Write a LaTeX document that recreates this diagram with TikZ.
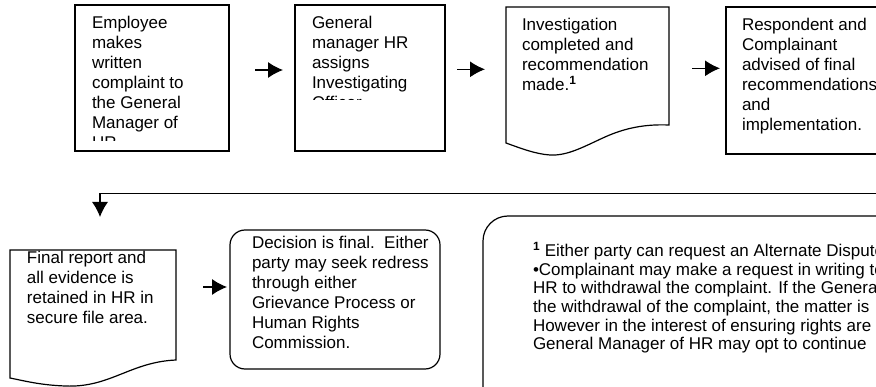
\documentclass[tikz,border=0pt]{standalone}
\usepackage{fontspec}
\setmainfont{Liberation Sans}
\usetikzlibrary{arrows.meta,positioning}
\tikzset{%
  >={Latex[length=15pt,width=16pt]},
  procbox/.style={draw,line width=1.2pt,inner sep=0pt,outer sep=0pt},
  docline/.style={line width=1.2pt},
  boxtext/.style={anchor=north west,align=left,inner sep=0pt,outer sep=0pt,
    font=\fontsize{17}{20}\selectfont,execute at begin node=\strut},
  flow/.style={->,line width=1.1pt}%
}

\begin{document}
\begin{tikzpicture}[x=1pt,y=-1pt]
\useasboundingbox (0,0) rectangle (876,387);
\clip (0,0) rectangle (876,387);

% top row
\node[procbox,minimum width=154pt,minimum height=146pt] (b1) at (152,78) {};
\node[procbox,minimum width=150pt,minimum height=146pt] (b2) at (370,78) {};
\node[procbox,draw=none,minimum width=163pt,minimum height=148pt] (b3) at (587.5,81) {};
\draw[docline] (b3.north west) -- (b3.north east) -- (669,125)
  .. controls (645,124) and (625,128) .. (605,137)
  .. controls (585,146) and (568,156) .. (550,155)
  .. controls (535,154) and (520,148) .. (506,143) -- cycle;
\node[procbox,minimum width=174pt,minimum height=147pt] (b4) at (813,80.5) {};

% text top = baseline - 14pt (strut)
\begin{scope}
  \clip (b1.north west) rectangle (229,140.5);
  \node[boxtext] (t1) at (92,16.5) {Employee\\makes\\written\\complaint to\\the General\\Manager of\\HR};
\end{scope}
\begin{scope}
  \clip (b2.north west) rectangle (445,100);
  \node[boxtext] (t2) at (312,16) {General\\manager HR\\assigns\\Investigating\\Officer};
\end{scope}
\node[boxtext] (t3) at (522,18.5) {Investigation\\completed and\\recommendation\\made.\textsuperscript{\textbf{1}}};
\node[boxtext] (t4) at (742,18.5) {Respondent and\\Complainant\\advised of final\\recommendations\\and\\implementation.};

\draw[flow,shorten <=26pt,shorten >=12pt] ([yshift=8pt]b1.east) -- ([yshift=8pt]b2.west);
\draw[flow,shorten <=12pt,shorten >=21pt] ([yshift=8.7pt]b2.east) -- ([yshift=11.7pt]b3.west);
\draw[flow,shorten <=23pt,shorten >=6pt] ([yshift=12.7pt]b3.east) -- ([yshift=12.2pt]b4.west);

% bottom row
\node[procbox,draw=none,minimum width=166pt,minimum height=136pt] (b5) at (93,318) {};
\draw[docline] (b5.north west) -- (b5.north east) -- (176,360)
  .. controls (130,362) and (110,388) .. (65,386)
  .. controls (40,385) and (25,381) .. (10,378) -- cycle;
\node[procbox,rounded corners=15pt,minimum width=210pt,minimum height=139pt] (b6) at (335,299.5) {};
\node[procbox,rounded corners=25pt,minimum width=437pt,minimum height=204pt] (b7) at (701.5,318) {};

\node[boxtext] (t5) at (27,251) {Final report and\\all evidence is\\retained in HR in\\secure file area.};
\node[boxtext] (t6) at (252,236) {Decision is final.\ \ Either\\party may seek redress\\through either\\Grievance Process or\\Human Rights\\Commission.};
\node[boxtext,font=\fontsize{17}{18.7}\selectfont] (t7) at (533,241.9) {\textsuperscript{\textbf{1}} Either party can request an Alternate Dispute\\\textbullet Complainant may make a request in writing to\\HR to withdrawal the complaint. If the General\\the withdrawal of the complaint, the matter is\\However in the interest of ensuring rights are\\General Manager of HR may opt to continue};

\coordinate (ret) at (900,193.3);
\draw[flow,shorten >=33pt] (ret) -| ([xshift=7pt]b5.north);
\draw[flow,shorten <=27pt,shorten >=3pt] ([yshift=31pt]b5.east) -- ([yshift=12.5pt]b6.west);
\end{tikzpicture}
\end{document}
